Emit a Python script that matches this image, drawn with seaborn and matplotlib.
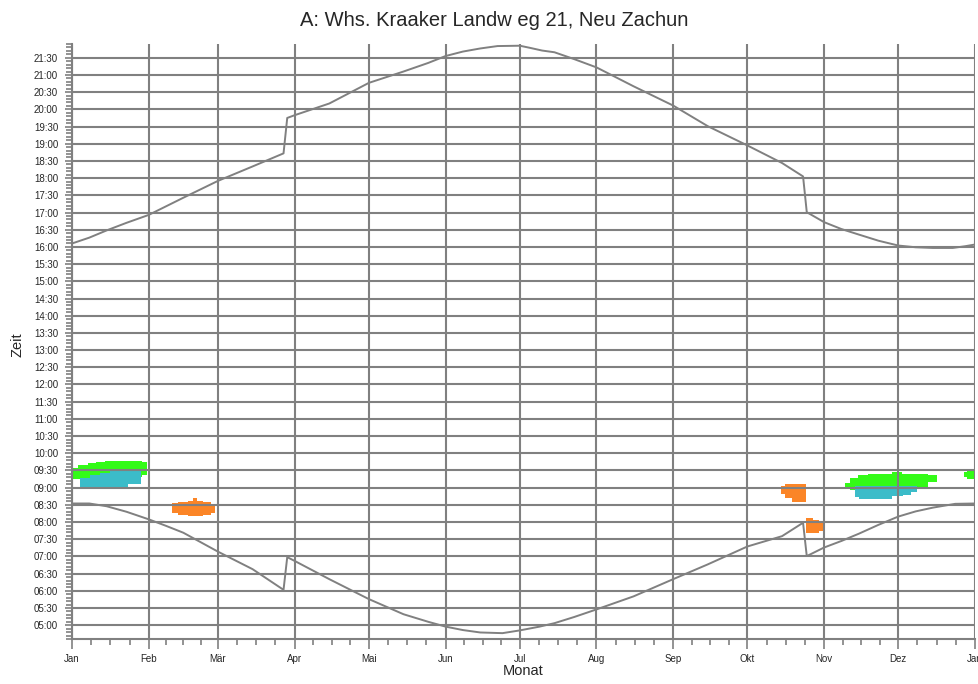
import matplotlib
matplotlib.use('Agg')
import matplotlib.pyplot as plt
from matplotlib.ticker import FixedLocator, MultipleLocator, FuncFormatter
import pandas as pd
import seaborn as sns

# day of year (0 = 1. Januar), time of day in hours
sunset_day = [0, 7, 14, 22, 31, 45, 59, 73, 85.5, 87, 90, 104, 120, 134, 144, 151, 158, 165, 172,
              181, 185, 190, 195, 203, 212, 227, 243, 257, 273, 287, 295.5, 297, 304, 311, 318,
              326, 334, 341, 348, 356, 361, 365]
sunset_hour = [16.10, 16.27, 16.48, 16.70, 16.93, 17.43, 17.92, 18.34, 18.72, 19.75, 19.83, 20.17,
               20.77, 21.10, 21.35, 21.55, 21.68, 21.77, 21.84, 21.85, 21.79, 21.71, 21.66, 21.46,
               21.22, 20.67, 20.11, 19.51, 18.95, 18.44, 18.05, 17.01, 16.72, 16.52, 16.36,
               16.18, 16.04, 15.99, 15.97, 15.97, 16.02, 16.07]

sunrise_day = [0, 7, 14, 22, 31, 38, 45, 59, 73, 85.5, 87, 90, 104, 120, 134, 144, 151, 158, 165,
               174, 181, 189, 195, 203, 212, 227, 243, 257, 273, 287, 295.5, 297, 304, 311, 318,
               326, 334, 341, 348, 357, 365]
sunrise_hour = [8.54, 8.54, 8.46, 8.30, 8.08, 7.89, 7.69, 7.14, 6.63, 6.03, 6.98, 6.87, 6.34, 5.76,
                5.32, 5.10, 4.96, 4.86, 4.79, 4.77, 4.85, 4.96, 5.06, 5.24, 5.46, 5.84, 6.34, 6.77,
                7.29, 7.59, 7.98, 7.01, 7.26, 7.45, 7.66, 7.92, 8.16, 8.31, 8.42, 8.53, 8.54]

# shadow areas: day edges with lower / upper time (step wise)
green_jan_day = [0.5, 2.4, 6.5, 9.7, 13.3, 28.3, 30.4]
green_jan_low = [9.24, 9.24, 9.24, 9.24, 9.30, 9.36, 9.36]
green_jan_high = [9.56, 9.66, 9.71, 9.76, 9.79, 9.75, 9.75]

cyan_jan_day = [3.2, 7.3, 11.3, 15.4, 22.6, 27.8]
cyan_jan_low = [9.02, 9.02, 9.02, 9.02, 9.12, 9.12]
cyan_jan_high = [9.29, 9.37, 9.42, 9.48, 9.48, 9.48]

orange_feb_day = [40.3, 43, 47, 49, 50.5, 53, 56, 57.8]
orange_feb_low = [8.25, 8.20, 8.18, 8.18, 8.18, 8.20, 8.27, 8.27]
orange_feb_high = [8.54, 8.58, 8.60, 8.69, 8.60, 8.57, 8.52, 8.52]

orange_okt_day = [286.6, 288.2, 291, 296.7]
orange_okt_low = [8.81, 8.71, 8.59, 8.59]
orange_okt_high = [9.05, 9.12, 9.12, 9.12]

orange_okt2_day = [296.7, 299.5, 302, 303.5]
orange_okt2_low = [7.67, 7.69, 7.75, 7.75]
orange_okt2_high = [8.13, 8.06, 8.00, 8.00]

green_dez_day = [312.4, 314.5, 317.7, 321.8, 331.5, 335.6, 340, 346, 349.7]
green_dez_low = [9.00, 8.94, 8.94, 8.94, 8.94, 8.95, 9.02, 9.16, 9.16]
green_dez_high = [9.14, 9.28, 9.36, 9.41, 9.47, 9.41, 9.41, 9.36, 9.36]

cyan_dez_day = [316.5, 318, 331.5, 336, 339, 341.4]
cyan_dez_low = [8.72, 8.68, 8.75, 8.80, 8.87, 8.87]
cyan_dez_high = [9.06, 9.06, 9.06, 9.06, 9.06, 9.06]

green_end_day = [360.7, 361.8, 365]
green_end_low = [9.30, 9.26, 9.26]
green_end_high = [9.45, 9.49, 9.49]

month_start = [0, 31, 59, 90, 120, 151, 181, 212, 243, 273, 304, 334, 365]
month_names = ['Jan', 'Feb', 'Mär', 'Apr', 'Mai', 'Jun', 'Jul', 'Aug', 'Sep', 'Okt', 'Nov', 'Dez', 'Jan']

GREEN = '#33fb17'
CYAN = '#3bbcc9'
ORANGE = '#fb8527'
GRAY = '#808080'

sns.set_style('white')
plt.rcParams['font.family'] = ['Liberation Sans', 'DejaVu Sans']

fig = plt.figure(figsize=(9.79, 6.84), dpi=100)
ax = fig.add_axes([72 / 979, 1 - 639 / 684, 903 / 979, (639 - 44) / 684])

areas = [
    (green_jan_day, green_jan_low, green_jan_high, GREEN),
    (cyan_jan_day, cyan_jan_low, cyan_jan_high, CYAN),
    (orange_feb_day, orange_feb_low, orange_feb_high, ORANGE),
    (orange_okt_day, orange_okt_low, orange_okt_high, ORANGE),
    (orange_okt2_day, orange_okt2_low, orange_okt2_high, ORANGE),
    (green_dez_day, green_dez_low, green_dez_high, GREEN),
    (cyan_dez_day, cyan_dez_low, cyan_dez_high, CYAN),
    (green_end_day, green_end_low, green_end_high, GREEN),
]
for d, lo, hi, c in areas:
    ax.fill_between(d, lo, hi, step='post', color=c, lw=0, zorder=1)

sunset = pd.DataFrame({'Tag': sunset_day, 'Zeit': sunset_hour})
sunrise = pd.DataFrame({'Tag': sunrise_day, 'Zeit': sunrise_hour})
sns.lineplot(data=sunset, x='Tag', y='Zeit', color=GRAY, lw=1.4, ax=ax, zorder=3)
sns.lineplot(data=sunrise, x='Tag', y='Zeit', color=GRAY, lw=1.4, ax=ax, zorder=3)

ax.set_xlim(0, 365)
ax.set_ylim(4.6, 21.9)

# axes and grid
ax.xaxis.set_major_locator(FixedLocator(month_start))
ax.set_xticklabels(month_names, fontsize=7)
minor_x = []
for a, b in zip(month_start[:-1], month_start[1:]):
    minor_x += [a + (b - a) * k / 4 for k in (1, 2, 3)]
ax.xaxis.set_minor_locator(FixedLocator(minor_x))

ax.yaxis.set_major_locator(FixedLocator([5 + 0.5 * i for i in range(34)]))
ax.yaxis.set_minor_locator(MultipleLocator(0.1))
ax.yaxis.set_major_formatter(FuncFormatter(lambda v, p: '%02d:%02d' % (int(v), round((v % 1) * 60))))
ax.tick_params(axis='y', which='major', labelsize=7, length=5, width=1.2, color=GRAY, pad=5, left=True)
ax.tick_params(axis='y', which='minor', length=4, width=1.2, color=GRAY, left=True)
ax.tick_params(axis='x', which='major', length=7, width=1.2, color=GRAY, pad=4, bottom=True)
ax.tick_params(axis='x', which='minor', length=4.5, width=1.2, color=GRAY, bottom=True)

ax.grid(True, which='major', color=GRAY, lw=1.5)
ax.set_axisbelow('line')
for s in ['top', 'right']:
    ax.spines[s].set_visible(False)
for s in ['left', 'bottom']:
    ax.spines[s].set_color(GRAY)
    ax.spines[s].set_linewidth(1.5)

ax.set_xlabel('Monat', fontsize=10.5, labelpad=0)
ax.set_ylabel('')
fig.text(18 / 979, 1 - 345 / 684, 'Zeit', rotation=90, fontsize=10.5, ha='center', va='center')
fig.text(494 / 979, 1 - 20 / 684, 'A: Whs. Kraaker Landw eg 21, Neu Zachun', fontsize=14.5,
         ha='center', va='center')

fig.savefig('out.png', dpi=100)
